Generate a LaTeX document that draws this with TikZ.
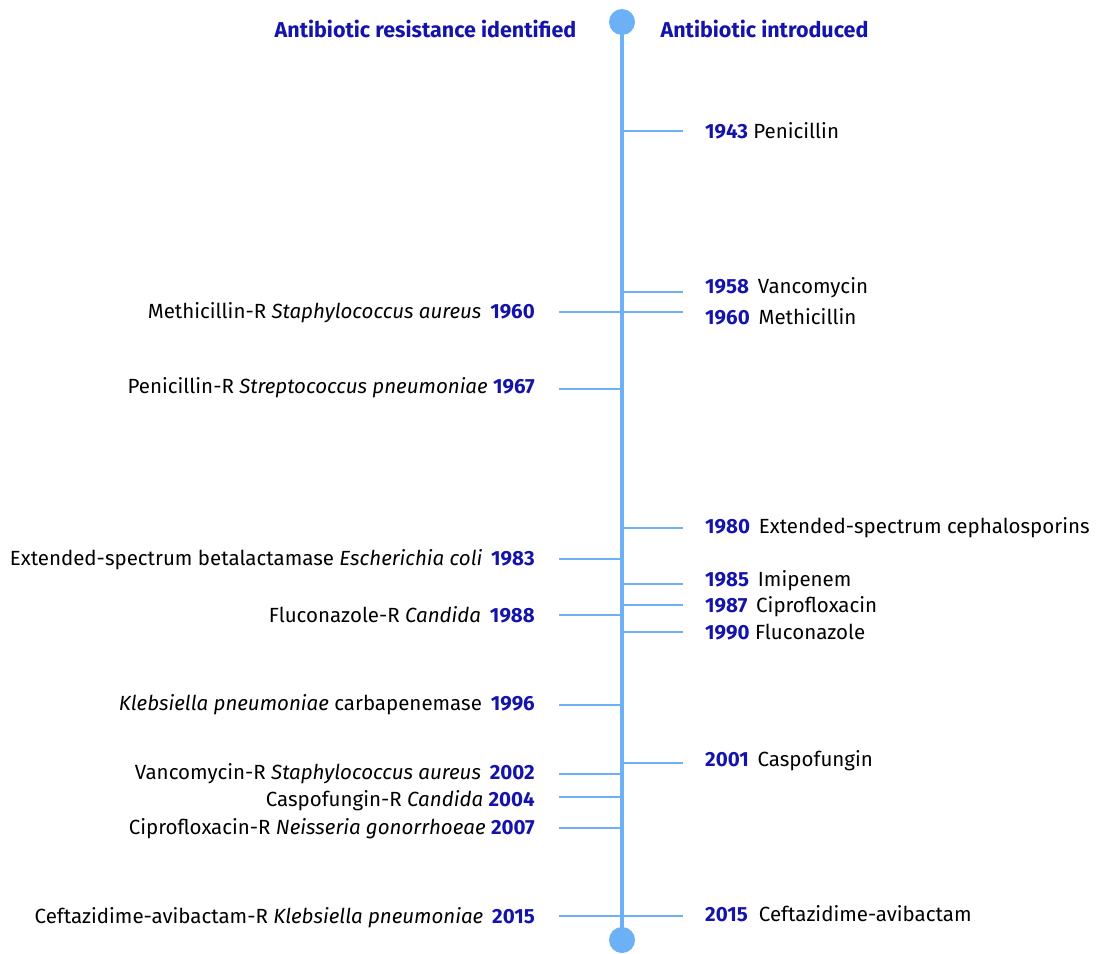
\documentclass[tikz,border=0pt]{standalone}
\usepackage{fontspec}
\setmainfont{Fira Sans}
\definecolor{axisblue}{RGB}{108,176,245}
\definecolor{yearblue}{RGB}{20,20,170}
\tikzset{
  year/.style={font=\bfseries\color{yearblue}},
  lbl/.style={inner sep=0pt, font=\fontsize{20.5}{24}\selectfont},
  tick/.style={axisblue, line width=2.4pt},
  head/.style={inner sep=0pt, font=\fontsize{21.5}{25}\selectfont\bfseries, text=yearblue}
}
\begin{document}
\begin{tikzpicture}[x=1pt,y=-1pt]
      \useasboundingbox (0,0) rectangle (1097,953);
      % axis
      \coordinate (top) at (622,22);
      \coordinate (bot) at (622,940);
      \draw[axisblue, line width=4pt] (top) -- (bot);
      \fill[axisblue] (top) circle (13);
      \fill[axisblue] (bot) circle (13);
      \node[head] (hl) at (425.5,29) {Antibiotic resistance identified};
      \node[head] (hr) at (764.5,29) {Antibiotic introduced};
      % introduced
      \foreach \n/\y/\ty/\yr/\txt in {
          1943/131/131/1943/Penicillin,
          1958/292/288/1958/{\,Vancomycin},
          1960/312/317/1960/{\,Methicillin},
          1980/528/528/1980/{\,Extended-spectrum cephalosporins},
          1985/584/581/1985/{\,Imipenem},
          1987/605/607/1987/{\,Ciprofloxacin},
          1990/632/632/1990/Fluconazole,
          2001/763/761/2001/{\,Caspofungin},
          2015/916/914/2015/{\;Ceftazidime-avibactam}} {
        \coordinate (ra\n) at (622,\y);
        \coordinate (rt\n) at (683,\y);
        \node[lbl, anchor=west] (r\n) at (705,\ty) {\textcolor{yearblue}{\bfseries\yr} \txt};
        \draw[tick] (ra\n) -- (rt\n);
      }
      % resistance
      \foreach \n/\y/\ty/\yr/\txt in {
          1960/312/313/1960/{Methicillin-R \textit{Staphylococcus aureus}\,},
          1967/389/388/1967/{Penicillin-R \textit{Streptococcus pneumoniae}},
          1983/559/560/1983/{Extended-spectrum betalactamase \textit{Escherichia coli}\,},
          1988/615/615/1988/{Fluconazole-R \textit{Candida}\,},
          1996/705/705/1996/{\textit{Klebsiella pneumoniae} carbapenemase\,},
          2002/774/774/2002/{Vancomycin-R \textit{Staphylococcus aureus}\,},
          2004/797/801/2004/{Caspofungin-R \textit{Candida}},
          2007/828/829/2007/{Ciprofloxacin-R \textit{Neisseria gonorrhoeae}},
          2015/916/918/2015/{Ceftazidime-avibactam-R \textit{Klebsiella pneumoniae}\,}} {
        \coordinate (la\n) at (622,\y);
        \coordinate (lt\n) at (559,\y);
        \node[lbl, anchor=east] (l\n) at (535,\ty) {\txt{} \textcolor{yearblue}{\bfseries\yr}};
        \draw[tick] (la\n) -- (lt\n);
      }
    \end{tikzpicture}
\end{document}
